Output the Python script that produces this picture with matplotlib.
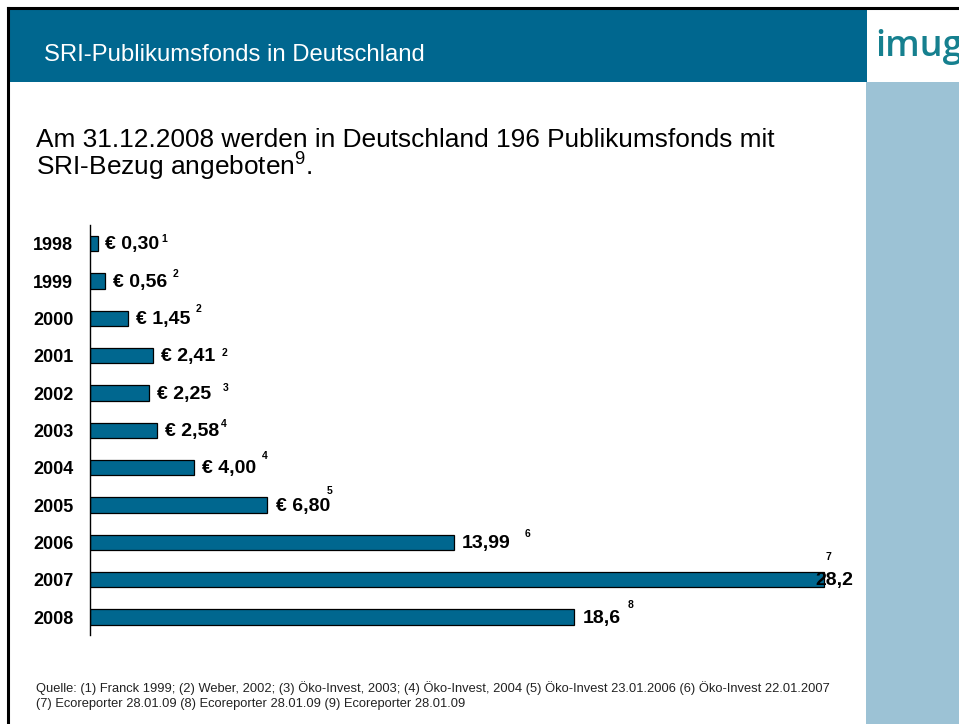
import matplotlib
matplotlib.use("Agg")
import matplotlib.pyplot as plt
from matplotlib.patches import Rectangle

plt.rcParams['font.family'] = ['Liberation Sans', 'DejaVu Sans']
plt.rcParams['mathtext.fontset'] = 'custom'
plt.rcParams['mathtext.rm'] = 'Liberation Sans'
plt.rcParams['mathtext.it'] = 'Liberation Sans'
plt.rcParams['mathtext.bf'] = 'Liberation Sans:bold'

# ---- data ----
years = ['1998', '1999', '2000', '2001', '2002', '2003', '2004', '2005', '2006', '2007', '2008']
values = [0.30, 0.56, 1.45, 2.41, 2.25, 2.58, 4.00, 6.80, 13.99, 28.2, 18.6]
value_labels = ['€ 0,30', '€ 0,56', '€ 1,45', '€ 2,41', '€ 2,25', '€ 2,58',
                '€ 4,00', '€ 6,80', '13,99', '28,2', '18,6']
footnotes = ['1', '2', '2', '2', '3', '4', '4', '5', '6', '7', '8']

header_title = 'SRI-Publikumsfonds in Deutschland'
headline_1 = 'Am 31.12.2008 werden in Deutschland 196 Publikumsfonds mit'
headline_2 = r'SRI-Bezug angeboten$^{9}$.'
source_1 = ('Quelle: (1) Franck 1999; (2) Weber, 2002; (3) Öko-Invest, 2003; (4) Öko-Invest, 2004 '
            '(5) Öko-Invest 23.01.2006 (6) Öko-Invest 22.01.2007')
source_2 = '(7) Ecoreporter 28.01.09 (8) Ecoreporter 28.01.09 (9) Ecoreporter 28.01.09'
logo = 'imug'

# ---- style (pixel offsets) ----
label_dx = [7, 8, 8, 8, 8, 8, 8, 9, 8, -9, 9]
sup_dx = [2, 6, 6, 7, 12, 1, 6, -4, 14, -27, 6]
sup_dy = [-6.5, -9, -11, -5, -7, -8, -13.5, -16.5, -10, -24.7, -14.5]

W, H = 959, 724
DPI = 100
fig = plt.figure(figsize=(W / DPI, H / DPI), dpi=DPI)
PT = 72.0 / DPI  # points per pixel

def fx(px):
    return px / W

def fy(py):
    return 1 - py / H

TEAL = '#00678F'
LIGHT = '#9CC2D5'

# background decorations
fig.patches.append(Rectangle((fx(9), fy(82)), fx(867) - fx(9), fy(9) - fy(82),
                             transform=fig.transFigure, facecolor=TEAL, edgecolor='none', zorder=0))
fig.patches.append(Rectangle((fx(866), 0), 1 - fx(866), fy(82),
                             transform=fig.transFigure, facecolor=LIGHT, edgecolor='none', zorder=0))
# black border lines top and left
fig.add_artist(plt.Line2D([fx(8), 1], [fy(8), fy(8)], transform=fig.transFigure, color='black', lw=2.2))
fig.add_artist(plt.Line2D([fx(8), fx(8)], [fy(8), 0], transform=fig.transFigure, color='black', lw=2.2))

fig.text(fx(44), fy(55), header_title, color='white', fontsize=17.2, va='center', ha='left')
fig.text(fx(875), fy(56), logo, color='#16808F', fontsize=26, fontweight='semibold',
         family=['Open Sans', 'DejaVu Sans'], va='baseline', ha='left')

fig.text(fx(36), fy(147), headline_1, fontsize=18.9, va='baseline', ha='left', color='black')
fig.text(fx(36), fy(176), headline_2, fontsize=18.9, va='baseline', ha='left', color='black')

fig.text(fx(36), fy(688), source_1, fontsize=9.25, va='center', ha='left', color='#222222')
fig.text(fx(36), fy(704), source_2, fontsize=9.25, va='center', ha='left', color='#222222')

# ---- chart ----
ax_left, ax_right, ax_top, ax_bot = 90, 866, 225, 635
ax = fig.add_axes([fx(ax_left), fy(ax_bot), fx(ax_right) - fx(ax_left), fy(ax_top) - fy(ax_bot)])
ax.set_facecolor('none')
px_per_unit = 26.03
ax.set_xlim(0, (ax_right - ax_left) / px_per_unit)
ypos = list(range(len(years)))
ax.set_ylim(10.48, -0.5)

ax.barh(ypos, values, height=0.41, color=TEAL, edgecolor='black', linewidth=0.9, zorder=2)

for s in ['top', 'right', 'bottom']:
    ax.spines[s].set_visible(False)
ax.spines['left'].set_linewidth(1.0)
ax.set_xticks([])
ax.set_yticks(ypos)
ax.set_yticklabels(years, fontsize=13, fontweight='bold', ha='left')
ax.tick_params(axis='y', length=0, pad=(ax_left - 33) * PT)

for i, (v, lab, fn) in enumerate(zip(values, value_labels, footnotes)):
    t = ax.annotate(lab, xy=(v, i), xytext=(label_dx[i] * PT, -1 * PT), textcoords='offset points',
                    ha='left', va='center', fontsize=14, fontweight='bold', zorder=3)
    ax.annotate(fn, xy=(1, 0.5), xycoords=t, xytext=(sup_dx[i] * PT, -sup_dy[i] * PT - 1 * PT),
                textcoords='offset points', ha='left', va='center', fontsize=7.5,
                fontweight='bold', zorder=3)

fig.savefig('out.png', dpi=DPI)
